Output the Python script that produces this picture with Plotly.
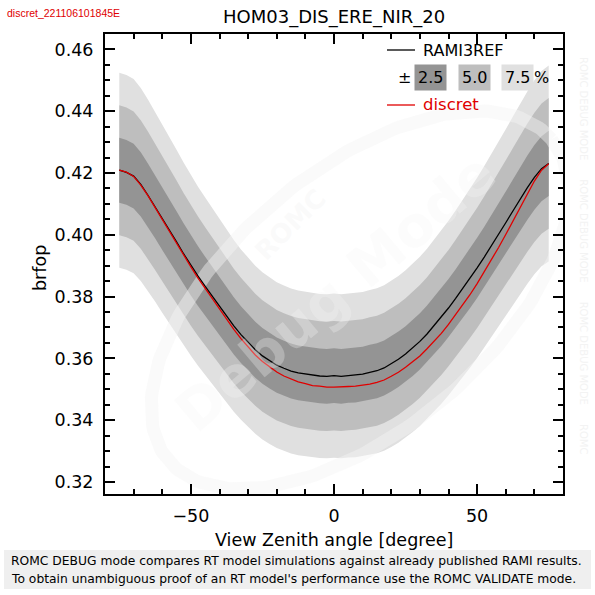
import numpy as np
import plotly.graph_objects as go

# ---------------- data ----------------
view_zenith = [-75, -72.5, -70, -67.5, -65, -62.5, -60, -57.5, -55, -52.5,
               -50, -47.5, -45, -42.5, -40, -37.5, -35, -32.5, -30, -27.5,
               -25, -22.5, -20, -17.5, -15, -12.5, -10, -7.5, -5, -2.5,
               0, 2.5, 5, 7.5, 10, 12.5, 15, 17.5, 20, 22.5,
               25, 27.5, 30, 32.5, 35, 37.5, 40, 42.5, 45, 47.5,
               50, 52.5, 55, 57.5, 60, 62.5, 65, 67.5, 70, 72.5, 75]

rami3ref = [0.4209, 0.4202, 0.4190, 0.4163, 0.4128, 0.4091, 0.4052, 0.4013, 0.3977, 0.3938,
            0.3901, 0.3866, 0.3833, 0.3800, 0.3768, 0.3737, 0.3705, 0.3677, 0.3651, 0.3628,
            0.3608, 0.3592, 0.3578, 0.3568, 0.3559, 0.3553, 0.3549, 0.3546, 0.3543, 0.3542,
            0.3544, 0.3542, 0.3545, 0.3546, 0.3549, 0.3555, 0.3560, 0.3569, 0.3582, 0.3597,
            0.3614, 0.3634, 0.3655, 0.3679, 0.3706, 0.3733, 0.3763, 0.3794, 0.3826, 0.3859,
            0.3893, 0.3928, 0.3964, 0.4001, 0.4039, 0.4077, 0.4115, 0.4152, 0.4186, 0.4214, 0.4231]

discret = [0.4209, 0.4203, 0.4189, 0.4161, 0.4127, 0.4088, 0.4050, 0.4010, 0.3974, 0.3934,
           0.3896, 0.3860, 0.3826, 0.3792, 0.3759, 0.3726, 0.3694, 0.3664, 0.3637, 0.3611,
           0.3590, 0.3572, 0.3556, 0.3543, 0.3534, 0.3524, 0.3518, 0.3512, 0.3510, 0.3507,
           0.3507, 0.3507, 0.3509, 0.3510, 0.3513, 0.3517, 0.3522, 0.3530, 0.3542, 0.3555,
           0.3571, 0.3588, 0.3608, 0.3631, 0.3655, 0.3681, 0.3710, 0.3741, 0.3774, 0.3806,
           0.3842, 0.3880, 0.3919, 0.3959, 0.4001, 0.4044, 0.4088, 0.4132, 0.4174, 0.4209, 0.4230]

band_percents = [7.5, 5.0, 2.5]
band_labels = ["7.5", "5.0", "2.5"]
band_colors = ["#e0e0e0", "#bebebe", "#949494"]

x_range = [-80, 80]
y_range = [0.3161, 0.4650]
x_ticks = [-50, 0, 50]
y_ticks = [0.32, 0.34, 0.36, 0.38, 0.40, 0.42, 0.44, 0.46]

title_text = "HOM03_DIS_ERE_NIR_20"
run_id = "discret_221106101845E"
x_title = "View Zenith angle [degree]"
y_title = "brfop"
footer_lines = [
    "ROMC DEBUG mode compares RT model simulations against already published RAMI results.",
    "To obtain unambiguous proof of an RT model's performance use the ROMC VALIDATE mode.",
]

# ---------------- geometry helpers (pixel -> paper) ----------------
L, R, T, B = 105, 563, 34, 494
W, H = 595, 595


def px(X):
    return (X - L) / (R - L)


def py(Y):
    return (B - Y) / (B - T)


FONT = "DejaVu Sans"

fig = go.Figure()

# tolerance bands
for p, c in zip(band_percents, band_colors):
    up = [v * (1 + p / 100.0) for v in rami3ref]
    lo = [v * (1 - p / 100.0) for v in rami3ref]
    fig.add_trace(go.Scatter(
        x=view_zenith + view_zenith[::-1], y=up + lo[::-1],
        fill="toself", fillcolor=c, mode="lines", line=dict(width=0),
        hoverinfo="skip", showlegend=False))

# watermark ring (decoration), computed in pixel space then mapped to data
t = np.linspace(0, 2 * np.pi, 241)
cx, cy, a, b, ang = 360.0, 300.0, 250.0, 130.0, np.deg2rad(40)
ux, uy = np.cos(ang), -np.sin(ang)
vx, vy = np.sin(ang), np.cos(ang)
PX = cx + a * np.cos(t) * ux + b * np.sin(t) * vx
PY = cy + a * np.cos(t) * uy + b * np.sin(t) * vy
ring_x = x_range[0] + (PX - L) / (R - L) * (x_range[1] - x_range[0])
ring_y = y_range[0] + (B - PY) / (B - T) * (y_range[1] - y_range[0])
fig.add_trace(go.Scatter(x=ring_x, y=ring_y, mode="lines",
                         line=dict(color="rgba(244,244,244,0.45)", width=13),
                         hoverinfo="skip", showlegend=False))

# curves
fig.add_trace(go.Scatter(x=view_zenith, y=rami3ref, mode="lines",
                         line=dict(color="black", width=1.3), showlegend=False))
fig.add_trace(go.Scatter(x=view_zenith, y=discret, mode="lines",
                         line=dict(color="#e00000", width=1.3), showlegend=False))

axis_common = dict(showline=True, linecolor="black", linewidth=2, mirror="ticks",
                   ticks="inside", ticklen=10, tickwidth=1.5, tickcolor="black",
                   showgrid=False, zeroline=False,
                   tickfont=dict(family=FONT, size=17.5, color="black"))

fig.update_xaxes(range=x_range, tickvals=x_ticks, ticklabelstandoff=5,
                 minor=dict(dtick=10, tick0=0, ticks="inside", ticklen=5,
                            tickwidth=1.5, tickcolor="black", showgrid=False),
                 **axis_common)
fig.update_yaxes(range=y_range, tickvals=y_ticks, tickformat=".2f", ticklabelstandoff=6,
                 minor=dict(dtick=0.005, tick0=0.32, ticks="inside", ticklen=5,
                            tickwidth=1.5, tickcolor="black", showgrid=False),
                 **axis_common)

ann = []
shapes = []

# title and run id
ann.append(dict(text=title_text, x=0.5, y=py(17), xref="paper", yref="paper",
                showarrow=False, xanchor="center", yanchor="middle",
                font=dict(family=FONT, size=18, color="black")))
ann.append(dict(text=run_id, x=px(5), y=py(13), xref="paper", yref="paper",
                showarrow=False, xanchor="left", yanchor="middle",
                font=dict(family="Liberation Sans", size=10.5, color="#e00000")))
# axis titles
ann.append(dict(text=x_title, x=0.5, y=py(540), xref="paper", yref="paper",
                showarrow=False, xanchor="center", yanchor="middle",
                font=dict(family=FONT, size=17.5, color="black")))
ann.append(dict(text=y_title, x=px(40), y=py(268), xref="paper", yref="paper",
                showarrow=False, xanchor="center", yanchor="middle", textangle=-90,
                font=dict(family=FONT, size=17.5, color="black")))

# legend
shapes.append(dict(type="line", xref="paper", yref="paper", x0=px(387), x1=px(415),
                   y0=py(50), y1=py(50), line=dict(color="black", width=1.3)))
ann.append(dict(text="RAMI3REF", x=px(421), y=py(50), xref="paper", yref="paper",
                showarrow=False, xanchor="left", yanchor="middle",
                font=dict(family=FONT, size=16, color="black")))
ann.append(dict(text="±", x=px(404), y=py(77), xref="paper", yref="paper",
                showarrow=False, xanchor="center", yanchor="middle",
                font=dict(family=FONT, size=16, color="black")))
box_centers = {"2.5": 430, "5.0": 474.5, "7.5": 517.5}
for lab, col in zip(band_labels, band_colors):
    ann.append(dict(text=lab, x=px(box_centers[lab]), y=py(77), xref="paper", yref="paper",
                    showarrow=False, xanchor="center", yanchor="middle",
                    bgcolor=col, borderpad=3,
                    font=dict(family=FONT, size=16, color="black")))
ann.append(dict(text="%", x=px(541), y=py(77), xref="paper", yref="paper",
                showarrow=False, xanchor="center", yanchor="middle",
                font=dict(family=FONT, size=16, color="black")))
shapes.append(dict(type="line", xref="paper", yref="paper", x0=px(387), x1=px(415),
                   y0=py(105), y1=py(105), line=dict(color="#e00000", width=1.3)))
ann.append(dict(text="discret", x=px(421), y=py(104), xref="paper", yref="paper",
                showarrow=False, xanchor="left", yanchor="middle",
                font=dict(family=FONT, size=16.5, color="#e00000")))

# watermark texts
ann.append(dict(text="<b>ROMC</b>", x=px(290), y=py(225), xref="paper", yref="paper",
                showarrow=False, textangle=-45, xanchor="center", yanchor="middle",
                font=dict(family=FONT, size=26, color="rgba(244,244,244,0.45)")))
ann.append(dict(text="<b>Debug Mode</b>", x=px(335), y=py(292), xref="paper", yref="paper",
                showarrow=False, textangle=-40, xanchor="center", yanchor="middle",
                font=dict(family=FONT, size=56, color="rgba(244,244,244,0.3)")))
ann.append(dict(text="ROMC DEBUG MODE      ROMC DEBUG MODE      ROMC DEBUG MODE      ROMC",
                x=px(584), y=py(255), xref="paper", yref="paper",
                showarrow=False, textangle=90, xanchor="center", yanchor="middle",
                font=dict(family=FONT, size=10, color="#f3f3f3")))

# footer
shapes.append(dict(type="rect", xref="paper", yref="paper", x0=px(4), x1=px(591),
                   y0=py(550), y1=py(589), fillcolor="#efefef", line=dict(width=0),
                   layer="below"))
for i, line in enumerate(footer_lines):
    ann.append(dict(text=line, x=px(9), y=py(561 + 18 * i), xref="paper", yref="paper",
                    showarrow=False, xanchor="left", yanchor="middle",
                    font=dict(family=FONT, size=12.3, color="black")))

fig.update_layout(width=W, height=H, margin=dict(l=L, r=W - R, t=T, b=H - B),
                  paper_bgcolor="white", plot_bgcolor="white",
                  showlegend=False, annotations=ann, shapes=shapes)

fig.write_html("out.html", config={"displayModeBar": False},
               post_script="document.body.style.margin='0px';")
